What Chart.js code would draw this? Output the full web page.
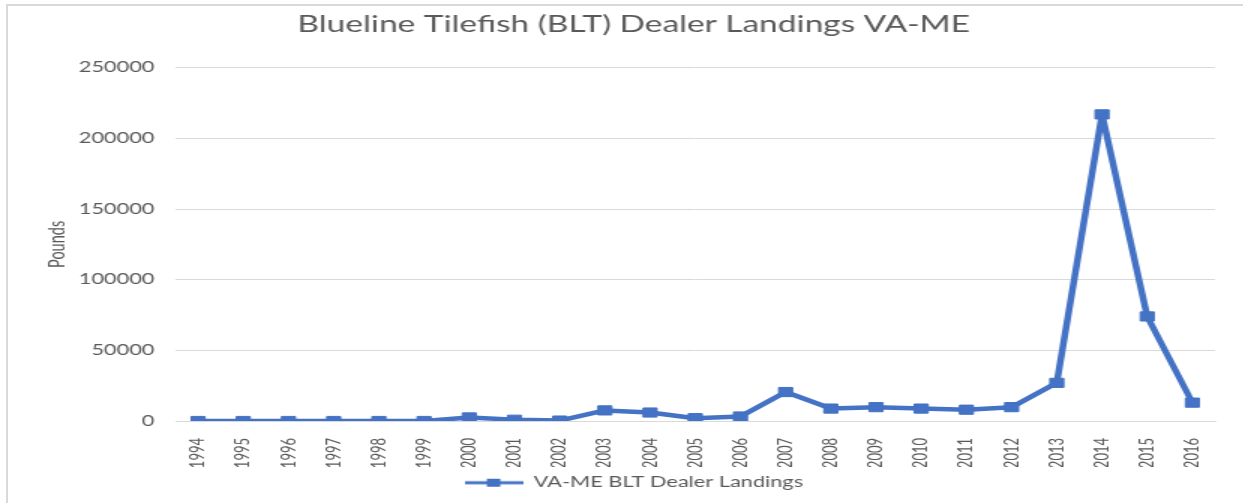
<!DOCTYPE html>
<html>
<head>
<meta charset="utf-8">
<script src="https://cdn.jsdelivr.net/npm/chart.js@4.4.0/dist/chart.umd.min.js"></script>
<style>
    html, body { margin: 0; padding: 0; background: #fff; overflow: hidden; width: 1243px; height: 503px; }
    #moldura { position: absolute; left: 6px; top: 4px; width: 1400px; height: 600px; border-left: 2px solid #d9d9d9; border-top: 2px solid #d9d9d9; }
    #grafico { position: absolute; left: 0; top: 0; transform: scaleX(1.5); transform-origin: 0 0; }
</style>
</head>
<body>
<div id="moldura"></div>
<canvas id="grafico" width="840" height="503"></canvas>
<script>
// =====================
// DADOS
// =====================
const anos = ["1994","1995","1996","1997","1998","1999","2000","2001","2002","2003","2004","2005",
              "2006","2007","2008","2009","2010","2011","2012","2013","2014","2015","2016"];
const libras = [0, 0, 0, 0, 0, 0, 2500, 900, 300, 7500, 6000, 2000,
                3200, 20500, 8800, 9800, 8800, 8000, 9800, 27000, 217000, 74000, 13000];
const ticksY = [0, 50000, 100000, 150000, 200000, 250000];

const AZUL = "#4472C4";
const CINZA = "#595959";
const GRADE = "#d9d9d9";
const FONTE = "Lato";

// marcador da legenda: linha com quadrado no meio (estilo Excel)
function marcadorLegenda() {
    let c = document.createElement("canvas");
    c.width = 39;
    c.height = 10;
    let ctx = c.getContext("2d");
    ctx.strokeStyle = AZUL;
    ctx.lineWidth = 3;
    ctx.beginPath();
    ctx.moveTo(0, 5);
    ctx.lineTo(39, 5);
    ctx.stroke();
    ctx.fillStyle = AZUL;
    ctx.fillRect(15, 1, 9, 8);
    return c;
}

// =====================
// GRÁFICO
// =====================
new Chart(document.getElementById("grafico"), {
    type: "line",
    data: {
        labels: anos,
        datasets: [{
            label: "VA-ME BLT Dealer Landings",
            data: libras,
            borderColor: AZUL,
            backgroundColor: AZUL,
            borderWidth: 4.5,
            borderJoinStyle: "round",
            borderCapStyle: "round",
            pointStyle: "rect",
            pointRadius: 6.5,
            pointBorderWidth: 1,
            tension: 0,
            yAxisID: "y"
        }]
    },
    options: {
        responsive: false,
        animation: false,
        devicePixelRatio: 1,
        layout: { padding: { left: 5, right: 0, top: 0, bottom: 3 } },
        plugins: {
            title: {
                display: true,
                text: "Blueline Tilefish (BLT) Dealer Landings VA-ME",
                color: CINZA,
                font: { family: FONTE, size: 22.3, weight: "normal" },
                padding: { top: 11, bottom: 30 }
            },
            legend: {
                position: "bottom",
                labels: {
                    usePointStyle: true,
                    pointStyle: marcadorLegenda(),
                    pointStyleWidth: 39,
                    boxHeight: 10,
                    color: CINZA,
                    font: { family: FONTE, size: 14.5 },
                    padding: 8.5
                }
            },
            tooltip: { enabled: false }
        },
        scales: {
            x: {
                offset: true,
                grid: { display: false },
                border: { color: GRADE, width: 1 },
                ticks: {
                    color: CINZA,
                    font: { family: FONTE, size: 13 },
                    minRotation: 90,
                    maxRotation: 90,
                    padding: 9,
                    autoSkip: false
                },
                afterFit: s => { s.height = 46; }
            },
            y: {
                min: 0,
                max: 250000,
                afterBuildTicks: s => { s.ticks = ticksY.map(v => ({ value: v })); },
                grid: { color: GRADE, drawTicks: false },
                border: { display: false },
                ticks: {
                    color: CINZA,
                    font: { family: FONTE, size: 14.5 },
                    padding: 14,
                    callback: v => String(v)
                },
                title: {
                    display: true,
                    text: "Pounds",
                    color: CINZA,
                    font: { family: FONTE, size: 14.5 },
                    padding: { top: 25, bottom: 0 }
                },
                afterFit: s => { s.width = 112; }
            },
            // eixo vazio só para reservar espaço à direita
            direita: {
                type: "linear",
                position: "right",
                grid: { display: false },
                ticks: { display: false },
                border: { display: false },
                afterFit: s => { s.width = 30; }
            }
        }
    }
});
</script>
</body>
</html>
